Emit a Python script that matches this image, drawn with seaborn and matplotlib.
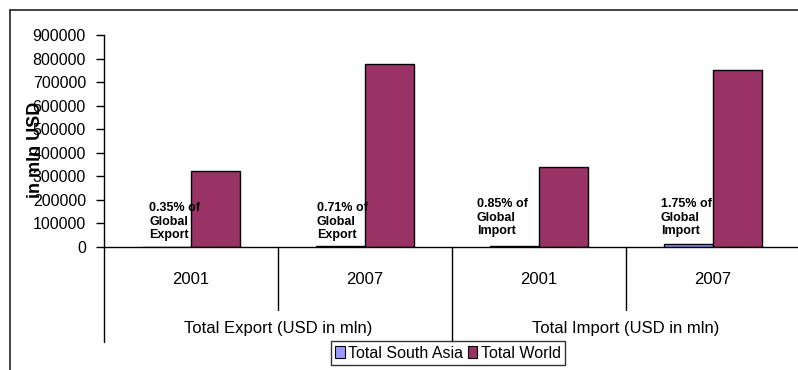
import matplotlib
matplotlib.use("Agg")
import matplotlib.pyplot as plt
from matplotlib.lines import Line2D
from matplotlib.patches import Patch
from matplotlib.transforms import blended_transform_factory
import pandas as pd
import seaborn as sns

# Trade totals in USD mln
groups = ["Total Export (USD in mln)", "Total Import (USD in mln)"]
years = ["2001", "2007", "2001", "2007"]
world_totals = [322600, 777000, 338000, 751000]
south_asia_share = [0.35, 0.71, 0.85, 1.75]   # % of global total
share_kind = ["Export", "Export", "Import", "Import"]
series = ["Total South Asia", "Total World"]
colors = ["#9999FF", "#993366"]
y_ticks = [0, 100000, 200000, 300000, 400000, 500000, 600000, 700000, 800000, 900000]

south_asia = [w * s / 100 for w, s in zip(world_totals, south_asia_share)]
cats = [f"{g[:12]} {y}" for g, y in zip([groups[0]] * 2 + [groups[1]] * 2, years)]
df = pd.DataFrame({
    "cat": cats * 2,
    "value": south_asia + world_totals,
    "series": [series[0]] * 4 + [series[1]] * 4,
})

sns.set_style("white")
plt.rcParams["font.family"] = ["Liberation Sans", "DejaVu Sans"]
plt.rcParams["text.color"] = "black"
plt.rcParams["ytick.color"] = "black"
plt.rcParams["ytick.labelcolor"] = "black"

W, H = 798, 370
fig = plt.figure(figsize=(W / 100, H / 100), dpi=100)
ax = fig.add_axes([104 / W, 1 - 247 / H, 696 / W, 212 / H])

sns.barplot(data=df, x="cat", y="value", hue="series", order=cats,
            hue_order=series, palette=colors, width=0.56,
            edgecolor="black", linewidth=1.0, saturation=1, ax=ax,
            legend=False)

ax.set_xlim(-0.5, 3.5)
ax.set_ylim(0, 900000)
ax.set_yticks(y_ticks)
ax.set_yticklabels([str(v) for v in y_ticks], fontsize=11.5, color="black")
ax.tick_params(axis="y", direction="out", length=6, width=1, color="black",
               pad=7, left=True)
ax.set_xticks([])
ax.set_xlabel("")
ax.set_ylabel("")
for side in ("top", "right"):
    ax.spines[side].set_visible(False)
for side in ("left", "bottom"):
    ax.spines[side].set_color("black")
    ax.spines[side].set_linewidth(1.0)

fig.text(36 / W, 1 - 150 / H, "in mln USD", rotation=90, fontsize=13,
         fontweight="bold", ha="center", va="center", color="black")

# Share annotations above the South Asia bars
note_dx = [-0.241, -0.276, -0.358, -0.30]
note_y = [0.028, 0.028, 0.047, 0.047]
bt = blended_transform_factory(ax.transData, ax.transAxes)
for i, (s, k) in enumerate(zip(south_asia_share, share_kind)):
    ax.text(i + note_dx[i], note_y[i], f"{s:.2f}% of\nGlobal\n{k}",
            transform=bt, fontsize=9, fontweight="bold", ha="left",
            va="bottom", linespacing=1.15, color="black")

# Two-level category axis below the bars
short_y = -(310 - 247) / 212
long_y = -(342 - 247) / 212
for b in [0.5, 2.5]:
    ax.add_line(Line2D([b, b], [0, short_y], transform=bt, color="black",
                       lw=1.0, clip_on=False))
for b in [-0.5, 1.5, 3.5]:
    ax.add_line(Line2D([b, b], [0, long_y], transform=bt, color="black",
                       lw=1.0, clip_on=False))
for i, y in enumerate(years):
    ax.text(i, -(280 - 247) / 212, y, transform=bt, ha="center",
            va="center", fontsize=12, color="black")
for j, g in enumerate(groups):
    ax.text(2 * j + 0.5, -(328 - 247) / 212, g, transform=bt, ha="center",
            va="center", fontsize=12, color="black")

handles = [Patch(facecolor=c, edgecolor="black", lw=0.8) for c in colors]
leg = fig.legend(handles, series, loc="center", ncol=2,
                 bbox_to_anchor=(448 / W, 1 - 353 / H), fontsize=11.5,
                 frameon=True, fancybox=False, edgecolor="black",
                 handlelength=0.6, handleheight=0.7, handletextpad=0.2,
                 columnspacing=0.3, borderpad=0.3, borderaxespad=0)
leg.get_frame().set_linewidth(1.0)
for t in leg.get_texts():
    t.set_color("black")

# Outer chart frame
fig.add_artist(Line2D([10 / W, 1], [1 - 10 / H, 1 - 10 / H],
                      transform=fig.transFigure, color="#333333", lw=1.3))
fig.add_artist(Line2D([10 / W, 10 / W], [1 - 10 / H, 0],
                      transform=fig.transFigure, color="#333333", lw=1.3))

fig.savefig("out.png", dpi=100)
